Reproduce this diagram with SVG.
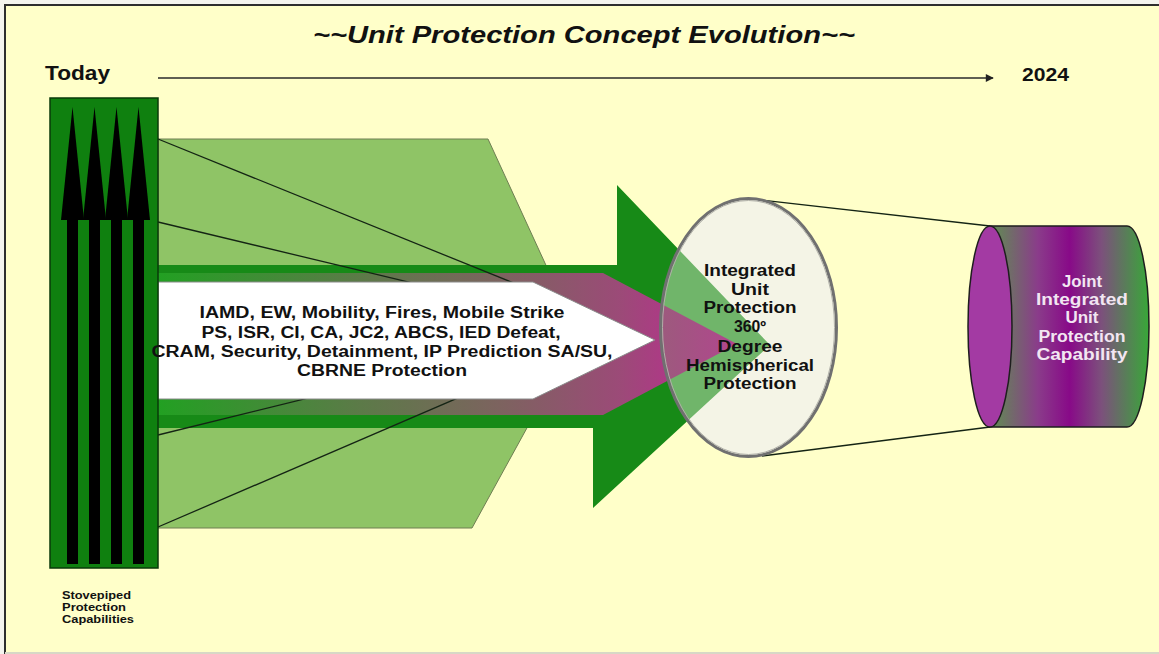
<svg xmlns="http://www.w3.org/2000/svg" width="1159" height="654" viewBox="0 0 1159 654">
  <style>
    .t { font-family: "Liberation Sans", Arial, sans-serif; font-weight: bold; fill: #111; }
    .mid { text-anchor: middle; }
    .light { fill: #F2E6F2; }
    .conn { stroke: #142414; stroke-width: 1.3; fill: none; }
    .shaft { fill: #000; }
  </style>
  <defs>
    <linearGradient id="bandGrad" gradientUnits="userSpaceOnUse" x1="158" y1="0" x2="737" y2="0">
      <stop offset="0" stop-color="#22A022"/>
      <stop offset="0.35" stop-color="#5C7A48"/>
      <stop offset="0.6" stop-color="#7E6260"/>
      <stop offset="0.8" stop-color="#9C4A78"/>
      <stop offset="1" stop-color="#C8209A"/>
    </linearGradient>
    <linearGradient id="cylGrad" gradientUnits="userSpaceOnUse" x1="990" y1="0" x2="1149" y2="0">
      <stop offset="0" stop-color="#5E9050"/>
      <stop offset="0.3" stop-color="#8A3C8A"/>
      <stop offset="0.5" stop-color="#880A88"/>
      <stop offset="0.7" stop-color="#7C507C"/>
      <stop offset="1" stop-color="#38A838"/>
    </linearGradient>
    <clipPath id="lensClip">
      <ellipse cx="748.5" cy="327.5" rx="88" ry="129"/>
    </clipPath>
    <marker id="arrowHead" viewBox="0 0 10 10" refX="9" refY="5" markerWidth="10" markerHeight="8" markerUnits="userSpaceOnUse" orient="auto">
      <path d="M0,0 L10,5 L0,10 Z" fill="#222"/>
    </marker>
    <polygon id="greenArrowShape" points="158,265 617,265 617,185 770,345 593,508 593,428 158,428"/>
    <polygon id="bandShape" points="158,273 603,273 737,344 603,415 158,415"/>
  </defs>

  <!-- page and frame -->
  <rect x="0" y="0" width="1159" height="654" fill="#F4F4EE"/>
  <rect x="5" y="5" width="1170" height="660" fill="#FFFFC9" stroke="#2E2E2E" stroke-width="2"/>
  <line x1="5" y1="653" x2="1159" y2="653" stroke="#D8D8C6" stroke-width="2"/>

  <!-- title and timeline -->
  <g id="title">
    <text class="t" x="313" y="43" font-size="23" font-style="italic" textLength="542" lengthAdjust="spacingAndGlyphs">~~Unit Protection Concept Evolution~~</text>
  </g>
  <g id="timeline">
    <text class="t" x="45" y="80" font-size="20" textLength="65" lengthAdjust="spacingAndGlyphs">Today</text>
    <text class="t" x="1022" y="81" font-size="19" textLength="47" lengthAdjust="spacingAndGlyphs">2024</text>
  </g>

  <!-- light green funnel -->
  <g id="funnel">
    <polygon points="158,139 488,139 578,335 472,528 158,528" fill="#8FC466" stroke="#6E7E52" stroke-width="1"/>
  </g>

  <!-- large green arrow -->
  <g id="green-arrow">
    <use href="#greenArrowShape" fill="#178A17"/>
  </g>

  <!-- converging band -->
  <g id="band">
    <use href="#bandShape" fill="url(#bandGrad)"/>
  </g>

  <!-- connectors -->
  <g id="connectors">
    <line class="conn" x1="158" y1="139" x2="600" y2="318"/>
    <line class="conn" x1="158" y1="222" x2="600" y2="328"/>
    <line class="conn" x1="158" y1="435" x2="560" y2="336"/>
    <line class="conn" x1="158" y1="527" x2="560" y2="354"/>
    <line x1="158" y1="78" x2="993" y2="78" stroke="#2A2A2A" stroke-width="1.5" marker-end="url(#arrowHead)"/>
    <line class="conn" x1="752" y1="199" x2="990" y2="226"/>
    <line class="conn" x1="762" y1="456" x2="990" y2="427"/>
  </g>

  <!-- capability list arrow -->
  <g id="capabilities">
    <polygon points="158,282 533,282 655,340 533,399 158,399" fill="#FFFFFF" stroke="#8A8A8A" stroke-width="1"/>
  </g>

  <!-- stovepiped capabilities -->
  <g id="stovepipes">
    <rect x="50" y="98" width="108" height="470" fill="#0F800F" stroke="#0A3A0A" stroke-width="1.5"/>
    <rect class="shaft" x="67" y="215" width="11" height="349"/>
    <rect class="shaft" x="89" y="215" width="11" height="349"/>
    <rect class="shaft" x="111" y="215" width="11" height="349"/>
    <rect class="shaft" x="133" y="215" width="11" height="349"/>
    <polygon class="shaft" points="72.5,107 84,220 61,220"/>
    <polygon class="shaft" points="94.5,107 106,220 83,220"/>
    <polygon class="shaft" points="116.5,107 128,220 105,220"/>
    <polygon class="shaft" points="138.5,107 150,220 127,220"/>
    <text class="t" x="62" y="599" font-size="10.5" textLength="69" lengthAdjust="spacingAndGlyphs">Stovepiped</text>
    <text class="t" x="62" y="611" font-size="10.5" textLength="64" lengthAdjust="spacingAndGlyphs">Protection</text>
    <text class="t" x="62" y="623" font-size="10.5" textLength="72" lengthAdjust="spacingAndGlyphs">Capabilities</text>
  </g>

  <g id="capabilities-text">
    <text class="t mid" x="382" y="318" font-size="16" textLength="365" lengthAdjust="spacingAndGlyphs">IAMD, EW, Mobility, Fires, Mobile Strike</text>
    <text class="t mid" x="381" y="338" font-size="16" textLength="359" lengthAdjust="spacingAndGlyphs">PS, ISR, CI, CA, JC2, ABCS, IED Defeat,</text>
    <text class="t mid" x="382" y="357" font-size="16" textLength="461" lengthAdjust="spacingAndGlyphs">CRAM, Security, Detainment, IP Prediction SA/SU,</text>
    <text class="t mid" x="382" y="376" font-size="16" textLength="170" lengthAdjust="spacingAndGlyphs">CBRNE Protection</text>
  </g>

  <!-- integrated unit protection lens: pale disc with the arrows showing through -->
  <g id="integrated">
    <ellipse cx="748.5" cy="327.5" rx="88" ry="129" fill="#F4F4E6"/>
    <g clip-path="url(#lensClip)">
      <use href="#greenArrowShape" fill="#178A17" fill-opacity="0.6"/>
      <use href="#bandShape" fill="url(#bandGrad)" fill-opacity="0.75"/>
    </g>
    <ellipse cx="748.5" cy="327.5" rx="88" ry="129" fill="none" stroke="#707070" stroke-width="3"/>
    <ellipse cx="748.5" cy="327.5" rx="86" ry="127" fill="none" stroke="#B0B0A8" stroke-width="1"/>
    <text class="t mid" x="750" y="276" font-size="16" textLength="92" lengthAdjust="spacingAndGlyphs">Integrated</text>
    <text class="t mid" x="750" y="295" font-size="16" textLength="38" lengthAdjust="spacingAndGlyphs">Unit</text>
    <text class="t mid" x="750" y="313" font-size="16" textLength="93" lengthAdjust="spacingAndGlyphs">Protection</text>
    <text class="t mid" x="750" y="332" font-size="16" textLength="32" lengthAdjust="spacingAndGlyphs">360º</text>
    <text class="t mid" x="750" y="352" font-size="16" textLength="65" lengthAdjust="spacingAndGlyphs">Degree</text>
    <text class="t mid" x="750" y="371" font-size="16" textLength="128" lengthAdjust="spacingAndGlyphs">Hemispherical</text>
    <text class="t mid" x="750" y="389" font-size="16" textLength="93" lengthAdjust="spacingAndGlyphs">Protection</text>
  </g>

  <!-- joint capability cylinder -->
  <g id="joint">
    <path d="M990,226 L1127,226 A22,100.5 0 0 1 1127,427 L990,427 Z" fill="url(#cylGrad)" stroke="#1E1E1E" stroke-width="1.5"/>
    <ellipse cx="990" cy="326.5" rx="22" ry="100.5" fill="#A33AA3" stroke="#1E1E1E" stroke-width="1.5"/>
    <text class="t mid light" x="1082" y="287" font-size="16" textLength="40" lengthAdjust="spacingAndGlyphs">Joint</text>
    <text class="t mid light" x="1082" y="305" font-size="16" textLength="92" lengthAdjust="spacingAndGlyphs">Integrated</text>
    <text class="t mid light" x="1082" y="323" font-size="16" textLength="33" lengthAdjust="spacingAndGlyphs">Unit</text>
    <text class="t mid light" x="1082" y="342" font-size="16" textLength="87" lengthAdjust="spacingAndGlyphs">Protection</text>
    <text class="t mid light" x="1082" y="360" font-size="16" textLength="91" lengthAdjust="spacingAndGlyphs">Capability</text>
  </g>
</svg>
